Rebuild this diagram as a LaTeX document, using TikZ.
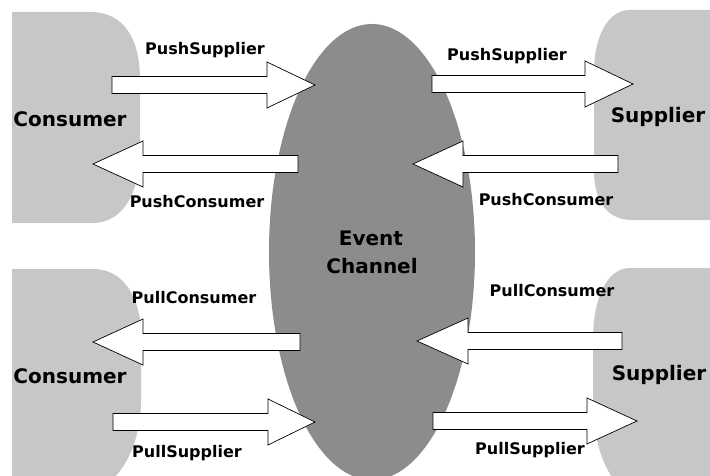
\documentclass[tikz,border=0pt]{standalone}
\usepackage{fontspec}
\setmainfont{DejaVu Sans}
\definecolor{lightfill}{gray}{0.78}
\definecolor{darkfill}{gray}{0.55}
\tikzset{
  party/.style={fill=lightfill},
  channel/.style={fill=darkfill},
  barrow/.style={draw=black, fill=white, line width=0.7pt, line join=miter},
  lbl/.style={inner sep=0pt, font=\bfseries\fontsize{16}{19}\selectfont},
  role/.style={inner sep=0pt, font=\bfseries\fontsize{20}{24}\selectfont},
}
% #1 = y centre, #2 = tail x, #3 = head base x, #4 = tip x
\newcommand\blockarrow[5]{%
  \draw[barrow] (#2,#1-8.5) -- (#3,#1-8.5) -- (#3,#1-23) -- (#4,#1)
     -- (#3,#1+23) -- (#3,#1+8.5) -- (#2,#1+8.5) -- cycle;
  \coordinate (#5) at (#4,#1);}
\begin{document}
\begin{tikzpicture}[x=1pt,y=-1pt]
\useasboundingbox (0,0) rectangle (710,476);
\begin{scope}
\clip (0,0) rectangle (710,476);
% parties
\fill[party] (12,12) -- (90,12) .. controls (125,12) and (140,40) .. (140,80)
   -- (140,150) .. controls (140,190) and (125,223) .. (92,223) -- (12,223) -- cycle;
\fill[party] (720,10) -- (630,10) .. controls (606,10) and (594,40) .. (594,72)
   -- (594,170) .. controls (594,205) and (610,220) .. (632,220) -- (720,220) -- cycle;
\fill[party] (12,269) -- (93,269) .. controls (125,269) and (141,300) .. (141,335)
   -- (141,400) .. controls (141,440) and (125,476) .. (98,490) -- (12,490) -- cycle;
\fill[party] (720,268) -- (630,268) .. controls (606,268) and (593,300) .. (593,340)
   -- (593,400) .. controls (593,440) and (603,470) .. (622,490) -- (720,490) -- cycle;
% event channel
\fill[channel] (372,252) ellipse [x radius=103, y radius=228];
\end{scope}
\node[role] (ev) at (371,238) {Event};
\node[role] (ch) at (372,266) {Channel};
% labels of parties
\node[role] (c1) at (70,119) {Consumer};
\node[role] (s1) at (658,117) {Supplier};
\node[role] (c2) at (70,376) {Consumer};
\node[role] (s2) at (659,375) {Supplier};
% block arrows
\blockarrow{85}{112}{267}{315}{a1}
\blockarrow{164}{298}{143}{93}{a2}
\blockarrow{84}{432}{585}{633}{a3}
\blockarrow{164}{618}{463}{413}{a4}
\blockarrow{342}{300}{143}{93}{a5}
\blockarrow{422}{113}{268}{315}{a6}
\blockarrow{341}{622}{468}{417}{a7}
\blockarrow{421}{433}{587}{637}{a8}
% arrow labels
\node[lbl] (l1) at (205,50) {PushSupplier};
\node[lbl] (l2) at (197,202) {PushConsumer};
\node[lbl] (l3) at (507,56) {PushSupplier};
\node[lbl] (l4) at (546,200) {PushConsumer};
\node[lbl] (l5) at (194,298) {PullConsumer};
\node[lbl] (l6) at (187,453) {PullSupplier};
\node[lbl] (l7) at (552,291) {PullConsumer};
\node[lbl] (l8) at (530,450) {PullSupplier};
\end{tikzpicture}
\end{document}
